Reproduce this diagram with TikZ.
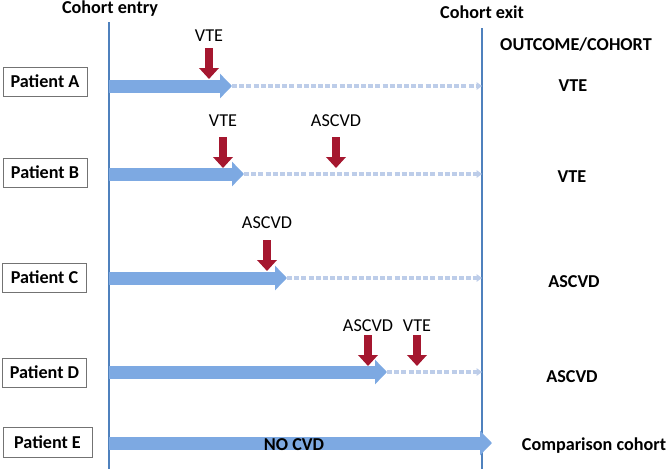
\documentclass[tikz,border=0pt]{standalone}
\usepackage{fontspec}
\setmainfont{Carlito}
\usetikzlibrary{positioning, arrows.meta}

\definecolor{lineblue}{HTML}{4F81BD}
\definecolor{barblue}{HTML}{7DA9E2}
\definecolor{dashblue}{HTML}{BDCDE9}
\definecolor{eventred}{HTML}{A5172F}

\begin{document}
\begin{tikzpicture}
    [x=0.03cm, y=-0.03cm,
    patientnode/.style={rectangle, draw=black!55, thin, minimum width=2.52cm, minimum height=0.87cm, font=\fontsize{15.5}{18}\selectfont\bfseries},
    headnode/.style={inner sep=0pt, anchor=base, font=\fontsize{15.5}{18}\selectfont\bfseries},
    eventnode/.style={inner sep=0pt, font=\fontsize{15.5}{18}\selectfont},
    timeline/.style={draw=lineblue, line width=0.06cm},
    bar/.style={draw=barblue, line width=0.39cm, -{Triangle[length=0.36cm, width=0.72cm]}},
    followup/.style={draw=dashblue, line width=0.1cm, dash pattern=on 0.15cm off 0.065cm, -{Triangle[length=0.16cm, width=0.22cm]}},
    eventarrow/.style={draw=eventred, line width=0.26cm, -{Triangle[length=0.33cm, width=0.58cm]}}]

    \useasboundingbox (0,0) rectangle (666,469);

    %Timelines
    \coordinate (entrytop) at (109,22);
    \coordinate (entrybot) at (109,469);
    \coordinate (exittop) at (482,28);
    \coordinate (exitbot) at (482,469);
    \draw[timeline](entrytop)--(entrybot);
    \draw[timeline](exittop)--(exitbot);

    %Nodes
    \node[patientnode](A) at (45,81.5){Patient A};
    \node[patientnode](B) at (45,172.5){Patient B};
    \node[patientnode](C) at (44.5,277.5){Patient C};
    \node[patientnode](D) at (44.5,372.5){Patient D};
    \node[patientnode, minimum width=2.67cm, minimum height=0.9cm](E) at (47.5,442){Patient E};

    %Bars
    \coordinate (startA) at (109,86);
    \coordinate (tipA) at (232,86);
    \coordinate (endA) at (482,86);
    \coordinate (startB) at (109,174);
    \coordinate (tipB) at (244,174);
    \coordinate (endB) at (482,174);
    \coordinate (startC) at (109,278);
    \coordinate (tipC) at (287,278);
    \coordinate (endC) at (482,278);
    \coordinate (startD) at (109,372);
    \coordinate (tipD) at (387,372);
    \coordinate (endD) at (482,372);
    \coordinate (startE) at (109,443);
    \coordinate (tipE) at (492,443);

    \draw[followup](tipA)--(endA);
    \draw[followup](tipB)--(endB);
    \draw[followup](tipC)--(endC);
    \draw[followup](tipD)--(endD);

    \draw[bar](startA)--(tipA);
    \draw[bar](startB)--(tipB);
    \draw[bar](startC)--(tipC);
    \draw[bar](startD)--(tipD);
    \draw[bar](startE)--(tipE);

    %Events
    \coordinate (vteAtop) at (209,48);
    \coordinate (vteAtip) at (209,79);
    \coordinate (vteBtop) at (223,137);
    \coordinate (vteBtip) at (223,168);
    \coordinate (ascvdBtop) at (336,137);
    \coordinate (ascvdBtip) at (336,168);
    \coordinate (ascvdCtop) at (267,240);
    \coordinate (ascvdCtip) at (267,271);
    \coordinate (ascvdDtop) at (368,335);
    \coordinate (ascvdDtip) at (368,366);
    \coordinate (vteDtop) at (417,335);
    \coordinate (vteDtip) at (417,366);

    \draw[eventarrow](vteAtop)--(vteAtip);
    \draw[eventarrow](vteBtop)--(vteBtip);
    \draw[eventarrow](ascvdBtop)--(ascvdBtip);
    \draw[eventarrow](ascvdCtop)--(ascvdCtip);
    \draw[eventarrow](ascvdDtop)--(ascvdDtip);
    \draw[eventarrow](vteDtop)--(vteDtip);

    \node[eventnode](vteAlabel)[above=0.18cm of vteAtop]{VTE};
    \node[eventnode](vteBlabel)[above=0.3cm of vteBtop]{VTE};
    \node[eventnode](ascvdBlabel)[above=0.3cm of ascvdBtop]{ASCVD};
    \node[eventnode](ascvdClabel)[above=0.33cm of ascvdCtop]{ASCVD};
    \node[eventnode](ascvdDlabel)[above=0.09cm of ascvdDtop]{ASCVD};
    \node[eventnode](vteDlabel)[above=0.09cm of vteDtop]{VTE};

    %Labels
    \node[headnode](entrylabel) at (110,13){Cohort entry};
    \node[headnode](exitlabel) at (482,18){Cohort exit};
    \node[headnode](outcomelabel) at (576,50){OUTCOME/COHORT};
    \node[headnode](outA) at (573,91){VTE};
    \node[headnode](outB) at (572,182){VTE};
    \node[headnode](outC) at (574,287){ASCVD};
    \node[headnode](outD) at (572,382){ASCVD};
    \node[headnode](outE) at (594,450){Comparison cohort};
    \node[headnode](nocvd) at (294,450){NO CVD};

\end{tikzpicture}
\end{document}
